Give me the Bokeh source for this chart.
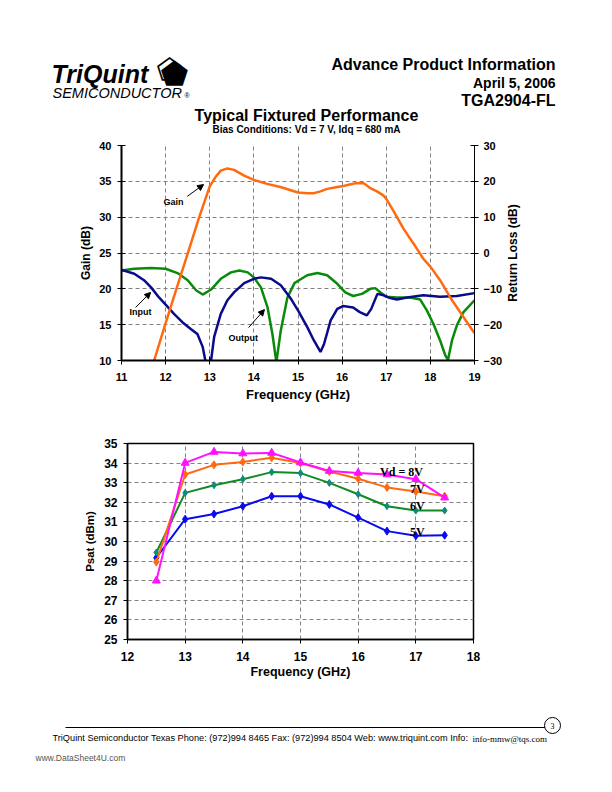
from bokeh.plotting import figure
from bokeh.models import Range1d, LinearAxis, FixedTicker, Arrow, NormalHead
from bokeh.layouts import column, row
from bokeh.embed import file_html
from bokeh.resources import INLINE
from bokeh.core.properties import value
import math

# ---------------- data: top chart ----------------
gain_freq = [11.74, 12.0, 12.25, 12.5, 12.75, 13.0, 13.13, 13.25, 13.4, 13.55, 13.78, 14.0,
             14.3, 14.6, 15.0, 15.21, 15.36, 15.51, 15.66, 15.89, 16.0, 16.17, 16.32, 16.49,
             16.64, 16.79, 16.94, 17.0, 17.16, 17.39, 17.62, 17.84, 18.0, 18.22, 18.45, 18.68, 19.0]
gain_db = [10.0, 15.2, 20.1, 24.9, 29.8, 34.3, 35.6, 36.5, 36.8, 36.6, 35.8, 35.2,
           34.65, 34.2, 33.45, 33.35, 33.35, 33.6, 33.95, 34.2, 34.3, 34.55, 34.75, 34.75,
           34.05, 33.6, 33.0, 32.55, 30.9, 28.4, 26.3, 24.2, 23.1, 21.2, 18.8, 16.7, 13.8]

input_freq = [11.0, 11.29, 11.51, 11.67, 11.85, 12.0, 12.19, 12.38, 12.57, 12.72, 12.84, 12.9,
              12.96, 13.03, 13.1, 13.25, 13.4, 13.55, 13.78, 14.0, 14.16, 14.39, 14.61, 14.84,
              15.0, 15.21, 15.36, 15.51, 15.59, 15.74, 15.89, 16.02, 16.25, 16.4, 16.56, 16.66,
              16.8, 16.94, 17.09, 17.24, 17.47, 17.84, 18.22, 18.6, 19.0]
input_rl = [-4.7, -5.8, -7.6, -9.6, -12.4, -14.4, -17.0, -19.3, -21.2, -22.6, -26.2, -30.0,
            -38.0, -30.0, -23.4, -17.0, -13.2, -11.0, -8.4, -7.2, -6.8, -7.2, -9.0, -12.8,
            -16.0, -20.7, -24.4, -27.6, -25.4, -18.8, -15.6, -14.8, -15.2, -16.5, -17.4, -15.6,
            -11.4, -11.8, -12.6, -13.0, -12.4, -11.8, -12.2, -12.0, -11.2]

output_freq = [11.0, 11.29, 11.67, 12.0, 12.27, 12.5, 12.69, 12.84, 13.03, 13.25, 13.48, 13.67,
               13.86, 14.0, 14.16, 14.31, 14.42, 14.51, 14.61, 14.76, 14.92, 15.05, 15.21, 15.44,
               15.66, 15.89, 16.07, 16.25, 16.45, 16.64, 16.75, 16.87, 17.0, 17.24, 17.54, 17.77,
               17.92, 18.07, 18.22, 18.34, 18.4, 18.49, 18.6, 18.75, 19.0]
output_rl = [-4.9, -4.4, -4.2, -4.4, -5.6, -7.6, -10.4, -11.6, -10.2, -7.2, -5.4, -4.9,
             -5.4, -6.8, -9.6, -15.2, -22.6, -30.5, -21.6, -12.4, -8.4, -7.4, -6.2, -5.6,
             -6.2, -8.6, -11.0, -12.0, -11.4, -10.0, -9.8, -11.0, -12.2, -12.4, -12.4, -13.0,
             -16.0, -19.8, -24.4, -28.6, -29.8, -24.4, -20.2, -16.5, -13.2]

gain_ticks = [10, 15, 20, 25, 30, 35, 40]
rl_ticks = [-30, -20, -10, 0, 10, 20, 30]
freq_ticks_top = [11, 12, 13, 14, 15, 16, 17, 18, 19]

# ---------------- data: bottom chart ----------------
psat_freq = [12.5, 13.0, 13.5, 14.0, 14.5, 15.0, 15.5, 16.0, 16.5, 17.0, 17.5]
psat_8v = [28.0, 34.01, 34.57, 34.49, 34.52, 34.03, 33.6, 33.5, 33.42, 33.18, 32.24]
psat_7v = [28.95, 33.42, 33.91, 34.06, 34.27, 34.0, 33.57, 33.2, 32.76, 32.55, 32.31]
psat_6v = [29.44, 32.48, 32.87, 33.18, 33.54, 33.49, 32.99, 32.41, 31.8, 31.58, 31.58]
psat_5v = [29.17, 31.14, 31.4, 31.8, 32.31, 32.31, 31.89, 31.22, 30.53, 30.29, 30.32]
psat_ticks = list(range(25, 36))
freq_ticks_bot = [12, 13, 14, 15, 16, 17, 18]

SANS = "Liberation Sans"
SERIF = "Liberation Serif"
W = 604


def no_align(p):
    try:
        p.frame_align = False
    except Exception:
        pass


def page_fig(w, h, x0, y0):
    p = figure(width=w, height=h, x_range=Range1d(x0, x0 + w), y_range=Range1d(y0 + h, y0),
               output_backend="svg", toolbar_location=None, min_border=0, title=None,
               x_axis_type=None, y_axis_type=None)
    p.outline_line_color = None
    p.grid.visible = False
    no_align(p)
    return p


def txt(p, x, y, s, size, align="left", style="bold", font=SANS, color="black",
        baseline="middle", angle=0.0):
    p.text(x=[x], y=[y], text=[s], text_font=value(font), text_font_size=f"{size}px",
           text_font_style=style, text_align=align, text_baseline=baseline, text_color=color,
           angle=angle)


# ---------------- header ----------------
hdr = page_fig(W, 140, 0, 0)
txt(hdr, 51, 73, "TriQuint", 25, style="bold italic")
txt(hdr, 52, 92, "SEMICONDUCTOR", 14.5, style="italic")
txt(hdr, 184, 95, "®", 7, style="normal")
txt(hdr, 156, 69, "\u2B20", 30, style="normal", font="DejaVu Sans")
txt(hdr, 160, 73, "\u2B1F", 32, style="normal", font="DejaVu Sans")
txt(hdr, 555, 64, "Advance Product Information", 16, align="right")
txt(hdr, 555, 82, "April 5, 2006", 14, align="right")
txt(hdr, 555, 100, "TGA2904-FL", 16, align="right")
txt(hdr, 306, 115, "Typical Fixtured Performance", 16, align="center")
txt(hdr, 306, 129, "Bias Conditions: Vd = 7 V, Idq = 680 mA", 10, align="center")

# ---------------- top chart ----------------
P1W = 505
p1 = figure(width=P1W, height=270, x_range=Range1d(11, 19), y_range=Range1d(10, 40),
            output_backend="svg", toolbar_location=None, title=None,
            min_border_left=121, min_border_right=31, min_border_top=5, min_border_bottom=50)
no_align(p1)
p1.extra_y_ranges = {"rl": Range1d(-30, 30)}
p1.outline_line_color = None

raxis = LinearAxis(y_range_name="rl")
p1.add_layout(raxis, "right")

for ax in [p1.xaxis[0], p1.yaxis[0], raxis]:
    ax.axis_line_color = "black"
    ax.major_tick_line_color = "black"
    ax.major_tick_in = 4
    ax.major_tick_out = 4
    ax.minor_tick_line_color = None
    ax.major_label_text_font = SANS
    ax.major_label_text_font_style = "bold"
    ax.major_label_text_font_size = "11px"
    ax.major_label_text_color = "black"
    ax.axis_label_text_font = SANS
    ax.axis_label_text_font_style = "bold"
    ax.axis_label_text_color = "black"
    ax.axis_label_text_font_size = "12px"

p1.xaxis[0].ticker = FixedTicker(ticks=freq_ticks_top)
p1.xaxis[0].axis_label = "Frequency (GHz)"
p1.xaxis[0].axis_label_text_font_size = "13px"
p1.xaxis[0].axis_line_width = 2
p1.xaxis[0].major_label_standoff = 8
p1.xaxis[0].axis_label_standoff = 3

p1.yaxis[0].ticker = FixedTicker(ticks=gain_ticks)
p1.yaxis[0].axis_label = "Gain (dB)"
p1.yaxis[0].axis_line_width = 2
p1.yaxis[0].major_label_standoff = 6
p1.yaxis[0].axis_label_standoff = 3

raxis.ticker = FixedTicker(ticks=rl_ticks)
raxis.major_label_standoff = 5

p1.xgrid.ticker = FixedTicker(ticks=freq_ticks_top)
p1.ygrid.ticker = FixedTicker(ticks=gain_ticks)
p1.grid.grid_line_color = "#808080"
p1.grid.grid_line_dash = "4 3"
p1.grid.grid_line_width = 1

p1.line(output_freq, output_rl, y_range_name="rl", line_color="#0A8A0A", line_width=2.5)
p1.line(input_freq, input_rl, y_range_name="rl", line_color="#0A0A8C", line_width=2.5)
p1.line(gain_freq, gain_db, line_color="#FF6A10", line_width=2.5)

for (lx, ly, s, x0, y0, x1, y1) in [
        (12.18, 32.05, "Gain", 12.49, 32.9, 12.86, 34.55),
        (11.43, 16.7, "Input", 11.32, 17.4, 11.66, 19.5),
        (13.76, 13.07, "Output", 13.88, 14.6, 14.24, 17.1)]:
    txt(p1, lx, ly, s, 9, align="center")
    p1.add_layout(Arrow(end=NormalHead(size=6, fill_color="black", line_color="black"),
                        x_start=x0, y_start=y0, x_end=x1, y_end=y1,
                        line_color="black", line_width=1))

# right-hand title of the top chart (reads bottom-to-top)
side = page_fig(W - P1W, 270, P1W, 140)
txt(side, 512, 252.5, "Return Loss (dB)", 12, align="center", angle=math.pi / 2)

# ---------------- bottom chart ----------------
p2 = figure(width=W, height=280, x_range=Range1d(12, 18), y_range=Range1d(25, 35),
            output_backend="svg", toolbar_location=None, title=None,
            min_border_left=127, min_border_right=131, min_border_top=33, min_border_bottom=51)
no_align(p2)
p2.outline_line_color = "black"
p2.outline_line_width = 1.5
for ax in [p2.xaxis[0], p2.yaxis[0]]:
    ax.axis_line_color = "black"
    ax.axis_line_width = 1.5
    ax.major_tick_line_color = "black"
    ax.major_tick_in = 0
    ax.major_tick_out = 4
    ax.minor_tick_line_color = None
    ax.major_label_text_font = SANS
    ax.major_label_text_font_style = "bold"
    ax.major_label_text_font_size = "12px"
    ax.major_label_text_color = "black"
    ax.axis_label_text_font = SANS
    ax.axis_label_text_font_style = "bold"
    ax.axis_label_text_color = "black"
p2.xaxis[0].ticker = FixedTicker(ticks=freq_ticks_bot)
p2.xaxis[0].axis_label = "Frequency (GHz)"
p2.xaxis[0].axis_label_text_font_size = "12.5px"
p2.xaxis[0].major_label_standoff = 8
p2.xaxis[0].axis_label_standoff = 1
p2.yaxis[0].ticker = FixedTicker(ticks=psat_ticks)
p2.yaxis[0].axis_label = "Psat (dBm)"
p2.yaxis[0].axis_label_text_font_size = "11.5px"
p2.yaxis[0].major_label_standoff = 6
p2.yaxis[0].axis_label_standoff = 5
p2.xgrid.ticker = FixedTicker(ticks=freq_ticks_bot)
p2.ygrid.ticker = FixedTicker(ticks=psat_ticks)
p2.grid.grid_line_color = "#808080"
p2.grid.grid_line_dash = "4 3"

series = [
    (psat_5v, "#0A0AF0", "#0A0AF0", "diamond", 8),
    (psat_6v, "#118A22", "#0B8C7C", "diamond", 7),
    (psat_7v, "#FF6A10", "#FF6A10", "diamond", 8),
    (psat_8v, "#FF10FF", "#FF10FF", "triangle", 8),
]
for vals, lc, mc, mk, sz in series:
    p2.line(psat_freq, vals, line_color=lc, line_width=2)
    p2.scatter(psat_freq, vals, marker=mk, size=sz, fill_color=mc, line_color=mc)

for (lx, ly, s) in [(16.38, 33.57, "Vd = 8V"), (16.9, 32.7, "7V"),
                    (16.9, 31.82, "6V"), (16.9, 30.5, "5V")]:
    txt(p2, lx, ly, s, 12, font=SERIF)

# ---------------- footer ----------------
ftr = page_fig(W, 100, 0, 690)
ftr.segment(x0=[65], y0=[727], x1=[545], y1=[727], line_color="black", line_width=1)
ftr.scatter(x=[552], y=[725], marker="circle", size=16, fill_color="white", line_color="black", line_width=1)
txt(ftr, 552, 725, "3", 8, align="center", style="normal", font=SERIF)
txt(ftr, 52, 737, "TriQuint Semiconductor Texas Phone: (972)994 8465  Fax: (972)994 8504  "
    "Web: www.triquint.com  Info: ", 9.2, style="normal")
txt(ftr, 472, 738, "info-mmw@tqs.com", 9, align="left", style="normal", font=SERIF)
txt(ftr, 35, 757, "www.DataSheet4U.com", 8.5, style="normal", color="#555555")

layout = column(hdr, row(p1, side, spacing=0), p2, ftr, spacing=0)
open("out.html", "w").write(file_html(layout, INLINE))
